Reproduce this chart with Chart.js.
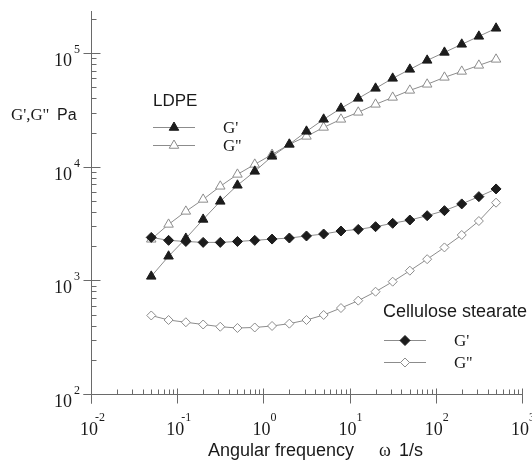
<!DOCTYPE html>
<html><head><meta charset="utf-8">
<script src="https://cdn.jsdelivr.net/npm/chart.js@4.4.0/dist/chart.umd.min.js"></script>
<style>html,body{margin:0;padding:0;background:#fff;} #wrap{width:532px;height:463px;position:relative;}</style>
</head><body><div id="wrap"><canvas id="c" width="532" height="463"></canvas></div>
<script>
// Angular frequency (1/s)
const frequency = [0.05, 0.0794, 0.126, 0.2, 0.316, 0.5, 0.794, 1.26, 2, 3.16, 5, 7.94, 12.6, 20, 31.6, 50, 79.4, 126, 200, 316, 500];
// LDPE
const ldpeStorage = [1085, 1630, 2340, 3440, 4960, 6870, 9110, 12350, 15750, 20500, 26150, 32700, 40000, 49000, 60000, 72000, 86400, 101600, 119600, 140600, 165500];
const ldpeLoss = [2300, 3110, 4050, 5160, 6730, 8570, 10500, 12830, 15750, 18520, 22200, 26150, 30150, 35450, 40800, 47050, 53200, 61250, 69100, 78100, 88200];
// Cellulose stearate
const csStorage = [2390, 2250, 2200, 2160, 2160, 2200, 2250, 2310, 2360, 2460, 2560, 2720, 2810, 2970, 3180, 3400, 3710, 4110, 4710, 5460, 6380];
const csLoss = [491, 448, 428, 409, 391, 381, 385, 397, 416, 448, 496, 571, 663, 795, 974, 1217, 1537, 1950, 2510, 3330, 4830];
// axis ticks
const xDecades = [0.01, 0.1, 1, 10, 100, 1000];
const xExponents = ['-2', '-1', '0', '1', '2', '3'];
const yDecades = [100, 1000, 10000, 100000];
const yExponents = ['2', '3', '4', '5'];
const minorMultipliers = [2, 3, 4, 5, 6, 7, 8, 9];

const LINE = '#8c8c8c';
const DARK = '#1c1c1c';
const AXIS = '#6a6a6a';

function pts(vals){ return frequency.map((f,i)=>({x:f, y:vals[i]})); }

function drawMarker(ctx, style, filled, cx, cy, r){
  ctx.beginPath();
  if(style==='triangle'){
    ctx.moveTo(cx, cy - r);
    ctx.lineTo(cx + Math.sin(2*Math.PI/3)*r, cy - Math.cos(2*Math.PI/3)*r);
    ctx.lineTo(cx + Math.sin(4*Math.PI/3)*r, cy - Math.cos(4*Math.PI/3)*r);
  } else {
    ctx.moveTo(cx - r, cy); ctx.lineTo(cx, cy - r); ctx.lineTo(cx + r, cy); ctx.lineTo(cx, cy + r);
  }
  ctx.closePath();
  ctx.fillStyle = filled ? DARK : '#ffffff';
  ctx.strokeStyle = filled ? DARK : LINE;
  ctx.lineWidth = 1;
  ctx.fill(); ctx.stroke();
}

const axesPlugin = {
  id: 'customAxes',
  beforeDatasetsDraw(chart){
    const {ctx, scales:{x, y}} = chart;
    const x0 = Math.round(x.getPixelForValue(xDecades[0])) + 0.5;
    const yb = Math.round(y.getPixelForValue(yDecades[0])) + 0.5;
    ctx.save();
    ctx.strokeStyle = AXIS; ctx.lineWidth = 1;
    ctx.beginPath();
    ctx.moveTo(x0, y.top); ctx.lineTo(x0, yb + 9);
    ctx.moveTo(x0 - 8, yb); ctx.lineTo(x.right + 0.5, yb);
    xDecades.forEach((d, i) => {
      const px = Math.round(x.getPixelForValue(d)) + 0.5;
      ctx.moveTo(px, yb - 6); ctx.lineTo(px, yb + 9);
      if (i < xDecades.length - 1) {
        minorMultipliers.forEach(m => {
          const mx = Math.round(x.getPixelForValue(m * d)) + 0.5;
          ctx.moveTo(mx, yb - 5); ctx.lineTo(mx, yb);
        });
      }
    });
    yDecades.forEach((d) => {
      const py = Math.round(y.getPixelForValue(d)) + 0.5;
      ctx.moveTo(x0 - 8, py); ctx.lineTo(x0 + 9, py);
      minorMultipliers.forEach(m => {
        const v = m * d;
        if (v <= y.max) {
          const my = Math.round(y.getPixelForValue(v)) + 0.5;
          ctx.moveTo(x0, my); ctx.lineTo(x0 + 5, my);
        }
      });
    });
    ctx.stroke();
    ctx.restore();
  },
  afterDraw(chart){
    const {ctx, scales:{x, y}} = chart;
    ctx.save();
    ctx.fillStyle = '#1a1a1a';
    ctx.textBaseline = 'alphabetic';
    // x tick labels
    xDecades.forEach((d, i) => {
      const px = x.getPixelForValue(d);
      ctx.font = '18px "Liberation Serif"';
      ctx.textAlign = 'right';
      ctx.fillText('10', px + 7, 435);
      ctx.font = '12px "Liberation Serif"';
      ctx.textAlign = 'left';
      const e = xExponents[i];
      ctx.fillText(e, px + (e.startsWith('-') ? 4 : 7), 421);
    });
    // y tick labels
    yDecades.forEach((d, i) => {
      const py = y.getPixelForValue(d);
      ctx.font = '18px "Liberation Serif"';
      ctx.textAlign = 'right';
      ctx.fillText('10', 72, py + 13);
      ctx.font = '12px "Liberation Serif"';
      ctx.textAlign = 'left';
      ctx.fillText(yExponents[i], 74, py);
    });
    // y title
    ctx.textAlign = 'left';
    ctx.font = '17px "Liberation Serif"';
    ctx.fillText("G',G''", 11, 120);
    ctx.font = '16px "Liberation Sans"';
    ctx.fillText('Pa', 57, 120);
    // x title
    ctx.font = '18px "Liberation Sans"';
    ctx.fillText('Angular frequency', 208, 456);
    ctx.font = '18px "Liberation Serif"';
    ctx.fillText('\u03c9', 379, 456);
    ctx.font = '18px "Liberation Sans"';
    ctx.fillText('1/s', 399, 456);
    // legends
    ctx.font = '17px "Liberation Sans"';
    ctx.fillText('LDPE', 153, 106);
    ctx.font = '18px "Liberation Sans"';
    ctx.fillText('Cellulose stearate', 383, 317);
    const rows = [
      {x1:153, x2:195, y:127, style:'triangle', filled:true, label:"G'", tx:223, r:5.5},
      {x1:153, x2:195, y:145, style:'triangle', filled:false, label:"G''", tx:223, r:5.5},
      {x1:384, x2:426, y:340, style:'diamond', filled:true, label:"G'", tx:454, r:5},
      {x1:384, x2:426, y:362, style:'diamond', filled:false, label:"G''", tx:454, r:4.5}
    ];
    rows.forEach(rw => {
      ctx.strokeStyle = LINE; ctx.lineWidth = 1;
      ctx.beginPath(); ctx.moveTo(rw.x1, rw.y + 0.5); ctx.lineTo(rw.x2, rw.y + 0.5); ctx.stroke();
      drawMarker(ctx, rw.style, rw.filled, (rw.x1 + rw.x2) / 2, rw.y + 0.5, rw.r);
      ctx.fillStyle = '#1a1a1a';
      ctx.font = '17px "Liberation Serif"';
      ctx.textAlign = 'left';
      ctx.fillText(rw.label, rw.tx, rw.y + 6);
    });
    ctx.restore();
  }
};

new Chart(document.getElementById('c'), {
  type: 'scatter',
  data: {
    datasets: [
      {label:"Cellulose stearate G'", data: pts(csStorage), showLine:true, borderColor:LINE, borderWidth:1,
       pointStyle:'rectRot', pointRadius:5, pointBackgroundColor:DARK, pointBorderColor:DARK, pointBorderWidth:1},
      {label:"Cellulose stearate G''", data: pts(csLoss), showLine:true, borderColor:LINE, borderWidth:1,
       pointStyle:'rectRot', pointRadius:4.5, pointBackgroundColor:'#ffffff', pointBorderColor:LINE, pointBorderWidth:1},
      {label:"LDPE G'", data: pts(ldpeStorage), showLine:true, borderColor:LINE, borderWidth:1,
       pointStyle:'triangle', pointRadius:5.5, pointBackgroundColor:DARK, pointBorderColor:DARK, pointBorderWidth:1},
      {label:"LDPE G''", data: pts(ldpeLoss), showLine:true, borderColor:LINE, borderWidth:1,
       pointStyle:'triangle', pointRadius:5.5, pointBackgroundColor:'#ffffff', pointBorderColor:LINE, pointBorderWidth:1}
    ]
  },
  options: {
    responsive: false,
    animation: false,
    events: [],
    layout: { padding: { left: 91, right: 10, top: 11, bottom: 69 } },
    plugins: { legend: { display: false }, tooltip: { enabled: false } },
    scales: {
      x: { type: 'logarithmic', min: 0.01, max: 1000, display: false },
      y: { type: 'logarithmic', min: 100, max: 235000, display: false }
    }
  },
  plugins: [axesPlugin]
});
</script>
</body></html>
